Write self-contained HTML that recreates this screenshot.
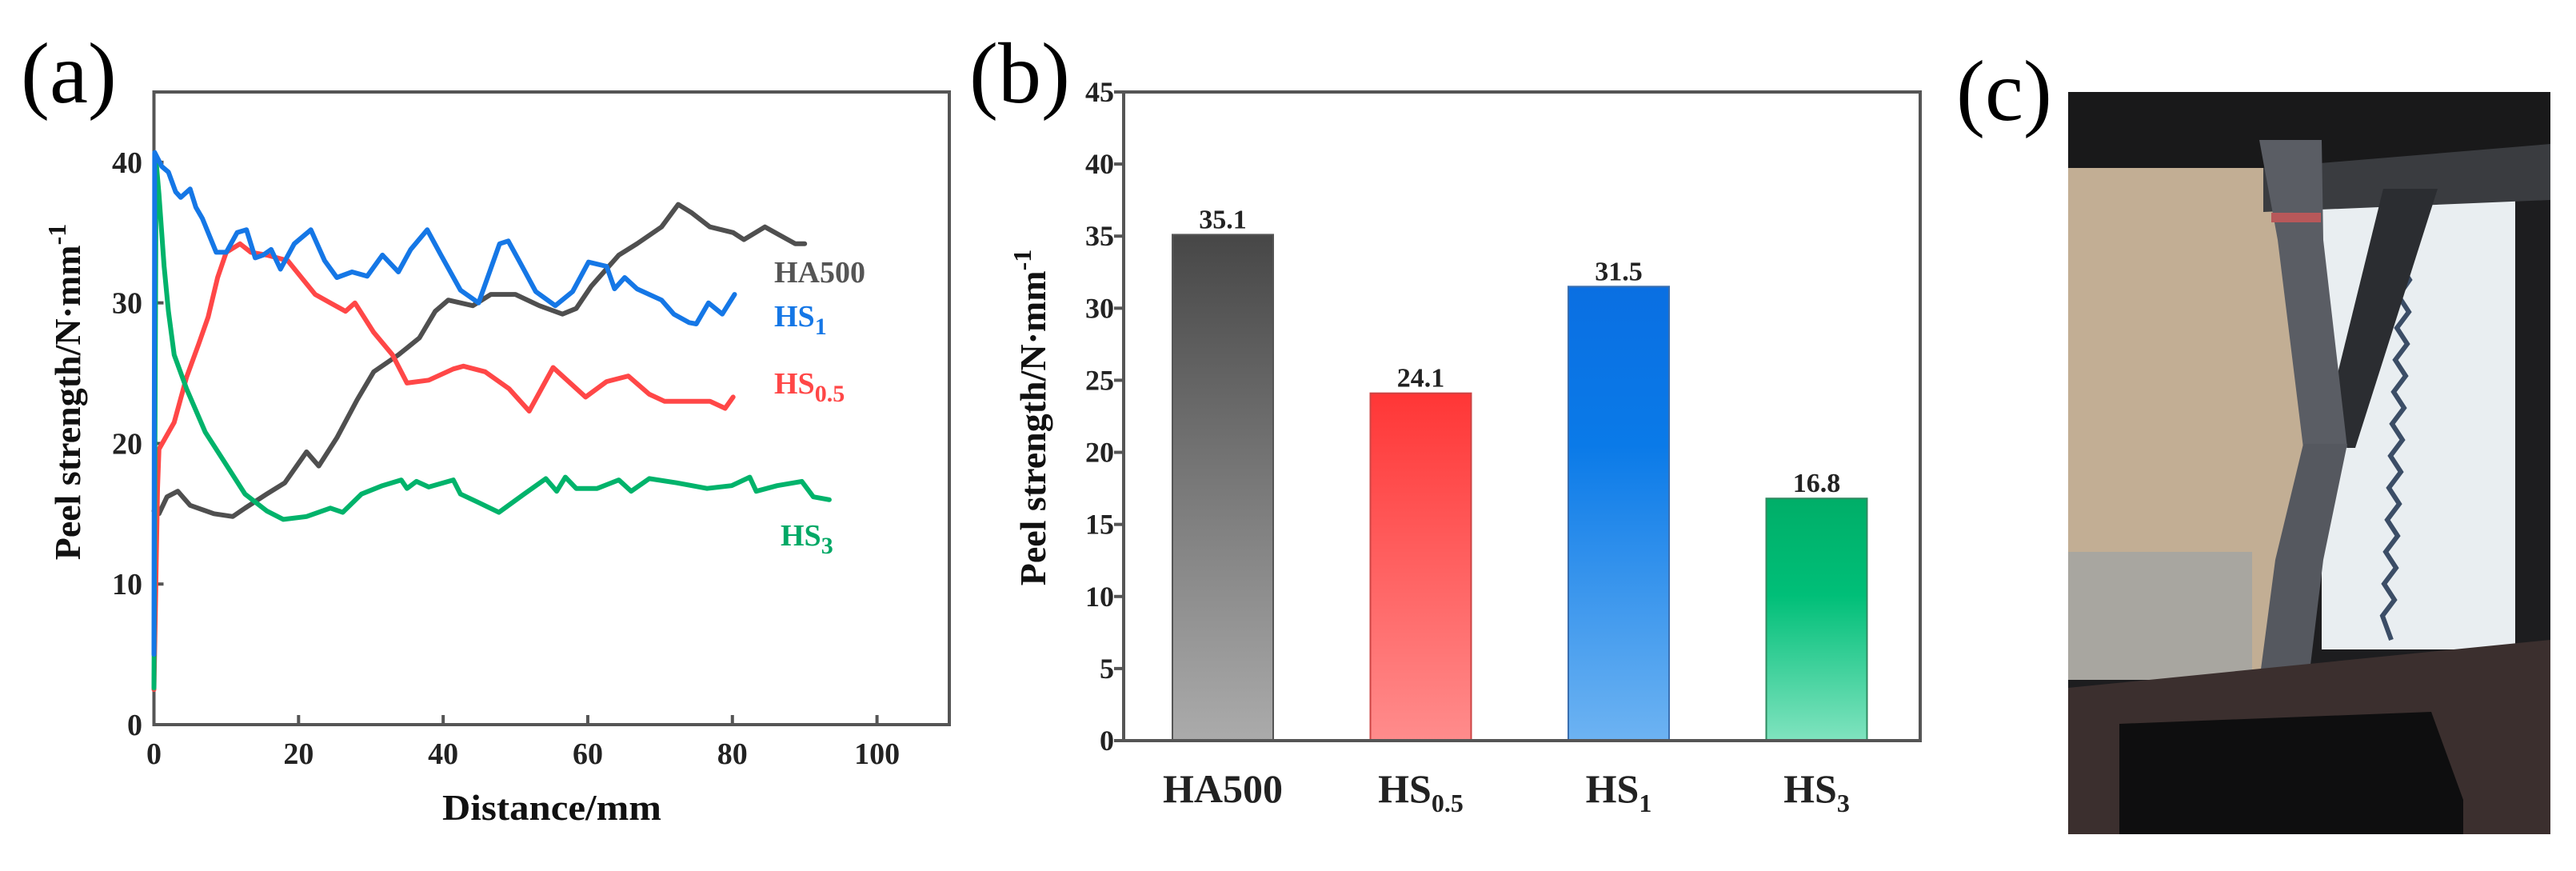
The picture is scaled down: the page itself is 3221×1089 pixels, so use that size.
<!DOCTYPE html>
<html><head><meta charset="utf-8">
<style>
html,body{margin:0;padding:0;background:#fff;}
svg{display:block;}
text{font-family:"Liberation Serif",serif;font-weight:bold;}
</style></head>
<body>
<svg id="fig" width="3221" height="1089" viewBox="0 0 3221 1089" xmlns="http://www.w3.org/2000/svg">
<defs>
<linearGradient id="gGray" x1="0" y1="0" x2="0" y2="1"><stop offset="0" stop-color="#474747"/><stop offset="1" stop-color="#ababab"/></linearGradient>
<linearGradient id="gRed" x1="0" y1="0" x2="0" y2="1"><stop offset="0" stop-color="#ff3636"/><stop offset="1" stop-color="#ff8c8c"/></linearGradient>
<linearGradient id="gBlue" x1="0" y1="0" x2="0" y2="1"><stop offset="0" stop-color="#0a6fe2"/><stop offset="0.35" stop-color="#0a7ae8"/><stop offset="1" stop-color="#6db3f2"/></linearGradient>
<linearGradient id="gGreen" x1="0" y1="0" x2="0" y2="1"><stop offset="0" stop-color="#00ae68"/><stop offset="0.4" stop-color="#00bf78"/><stop offset="1" stop-color="#80e3bf"/></linearGradient>
</defs>
<g id="panelA"></g>
<g id="panelB"></g>
<g id="panelC">
  <rect x="2586" y="115" width="603" height="928" fill="#1d1d1f"/>
  <rect x="2586" y="205" width="300" height="640" fill="#c2ae94"/>
  <rect x="2586" y="690" width="230" height="160" fill="#a8a6a0"/>
  <rect x="2903" y="236" width="242" height="576" fill="#e9eef1"/>
  <rect x="2586" y="115" width="603" height="95" fill="#19191a"/>
  <polygon points="2830,210 3189,180 3189,250 2830,265" fill="#3a3c40"/>
  <polyline fill="none" stroke="#3b4d66" stroke-width="6" points="3012,270 3000,290 3014,310 3000,330 3013,350 2999,370 3012,390 2997,410 3010,430 2995,450 3008,470 2993,490 3006,510 2991,530 3004,550 2989,570 3002,590 2987,610 3000,630 2985,650 2998,670 2983,690 2996,710 2981,730 2994,750 2979,770 2990,800"/>
  <polygon points="2980,236 3048,236 2945,560 2900,560" fill="#2b2d31"/>
  <polygon points="2825,175 2903,175 2905,300 2935,560 2880,560 2848,300" fill="#5a5d64"/>
  <rect x="2840" y="266" width="62" height="12" fill="#b8585a"/>
  <polygon points="2880,555 2935,555 2905,700 2880,905 2818,905 2845,700" fill="#55585f"/>
  <polygon points="2586,860 3189,800 3189,1043 2586,1043" fill="#3b2f2e"/>
  <polygon points="2650,905 3040,890 3080,1000 3080,1043 2650,1043" fill="#0e0e0f"/>
</g>
<g id="labels">
  <text x="26" y="128" font-size="108" style="font-weight:normal">(a)</text>
  <text x="1212" y="128" font-size="108" style="font-weight:normal">(b)</text>
  <text x="2446" y="150" font-size="108" style="font-weight:normal">(c)</text>
</g>
</svg>
<script>
const NS='http://www.w3.org/2000/svg';
// ---------- Panel (a) data ----------
const aXTicks=[0,20,40,60,80,100];
const aYTicks=[0,10,20,30,40];
const seriesNames=['HA500','HS1','HS0.5','HS3'];
const ha500X=[0,0.7,1.8,3.3,5,8.3,10.9,12.6,15.6,18.1,21.1,22.8,25.3,28.1,30.4,33.8,36.7,38.9,40.7,44.1,46.6,50,53.3,56.5,58.4,60.5,64.3,66.8,70.2,72.5,74.4,76.9,80.1,81.6,84.5,86.6,88.7,90];
const ha500Y=[15.2,15,16.2,16.6,15.6,15,14.8,15.4,16.4,17.2,19.4,18.4,20.4,23.1,25.1,26.3,27.5,29.4,30.2,29.8,30.6,30.6,29.8,29.2,29.6,31.2,33.4,34.2,35.4,37,36.4,35.4,35,34.5,35.4,34.8,34.2,34.2];
const hs1X=[0,0.1,1.1,2,3,3.7,5,5.8,6.7,8.6,10,11.5,12.8,14,15.1,16.2,17.5,19.4,21.7,23.6,25.3,27.4,29.5,31.6,33.8,35.5,37.8,39.7,42.4,44.9,47.8,49,50.7,52.8,55.5,57.9,60.1,62.6,63.7,65.1,66.8,70.2,71.9,74,75,76.7,78.6,80.3];
const hs1Y=[5,40.7,39.7,39.3,37.9,37.5,38.1,36.8,36,33.6,33.6,35,35.2,33.2,33.4,33.8,32.4,34.2,35.2,33,31.8,32.2,31.9,33.4,32.2,33.8,35.2,33.4,30.9,30,34.2,34.4,32.8,30.8,29.8,30.8,32.9,32.6,31,31.8,31,30.2,29.2,28.6,28.5,30,29.2,30.6];
const hs05X=[0,0.5,0.7,2.8,4.5,6.2,7.5,8.8,10,11.9,13.4,15.6,18.5,22.3,24.4,26.5,27.8,30.4,33,35,38,41.4,42.8,45.8,49.1,51.9,55.2,59.7,62.6,65.6,68.5,70.6,74.4,76.9,79,80.1];
const hs05Y=[2.5,16.8,19.6,21.5,24.7,27.1,29,31.8,33.6,34.2,33.6,33.4,33,30.6,30,29.4,30,27.9,26.3,24.3,24.5,25.3,25.5,25.1,23.9,22.3,25.4,23.3,24.4,24.8,23.5,23,23,23,22.5,23.3];
const hs3X=[0,0.3,0.7,1.4,2,2.8,4.5,7.1,9.6,12.6,15.6,17.9,21.1,24.4,26.1,28.7,31.6,34.2,35,36.3,38,41.4,42.4,44.9,47.7,51.2,54.2,55.7,56.9,58.4,61.3,64.3,66,68.5,72.3,76.5,79.9,82.4,83.3,86.2,89.6,91.2,93.4];
const hs3Y=[2.6,40.1,37.7,32.6,29.4,26.3,23.9,20.8,18.8,16.4,15.2,14.6,14.8,15.4,15.1,16.4,17,17.4,16.8,17.3,16.9,17.4,16.4,15.8,15.1,16.4,17.5,16.6,17.6,16.8,16.8,17.4,16.6,17.5,17.2,16.8,17,17.6,16.6,17,17.3,16.2,16];
// ---------- Panel (b) data ----------
const bCategories=['HA500','HS0.5','HS1','HS3'];
const bValues=[35.1,24.1,31.5,16.8];
const bLabels=['35.1','24.1','31.5','16.8'];
const bYTicks=[0,5,10,15,20,25,30,35,40,45];

function el(tag,attrs,parent,txt){const e=document.createElementNS(NS,tag);for(const k in attrs)e.setAttribute(k,attrs[k]);if(txt!==undefined)e.textContent=txt;parent.appendChild(e);return e;}

// Panel A axes
const A={l:192.5,r:1187,t:115,b:906,xmax:110,ymax:45};
const ax=v=>A.l+(v/A.xmax)*(A.r-A.l);
const ay=v=>A.b-(v/A.ymax)*(A.b-A.t);
const gA=document.getElementById('panelA');
const frameA=el('rect',{x:A.l,y:A.t,width:A.r-A.l,height:A.b-A.t,fill:'none',stroke:'#555','stroke-width':4},gA);


aXTicks.forEach(v=>{
  const t=el('line',{x1:ax(v),x2:ax(v),y1:A.b,y2:A.b-12,stroke:'#555','stroke-width':4},gA);
  
  
  const l=el('text',{x:ax(v),y:955,'font-size':38,'text-anchor':'middle',fill:'#222'},gA,String(v));
  
  
});
aYTicks.forEach(v=>{
  const t=el('line',{x1:A.l,x2:A.l+12,y1:ay(v),y2:ay(v),stroke:'#555','stroke-width':4},gA);
  
  
  const l=el('text',{x:178,y:ay(v)+13,'font-size':38,'text-anchor':'end',fill:'#222'},gA,String(v));
  
  
});
const xtA=el('text',{x:690,y:1025,'font-size':46,'text-anchor':'middle',fill:'#111',textLength:274,lengthAdjust:'spacingAndGlyphs'},gA,'Distance/mm');


const ytA=el('text',{x:0,y:0,'font-size':46,'text-anchor':'middle',fill:'#111',transform:'translate(100,490) rotate(-90)'},gA);


ytA.innerHTML='Peel strength/N·mm<tspan dy="-18" font-size="32">-1</tspan>';

function drawLine(xs,ys,color,name){
  const pts=xs.map((x,i)=>ax(x).toFixed(1)+','+ay(ys[i]).toFixed(1)).join(' ');
  const p=el('polyline',{points:pts,fill:'none',stroke:color,'stroke-width':6,'stroke-linejoin':'round','stroke-linecap':'round'},gA);
  
  
}
drawLine(ha500X,ha500Y,'#4f4f4f','line-ha500');
drawLine(hs05X,hs05Y,'#ff4747','line-hs05');
drawLine(hs3X,hs3Y,'#00b36b','line-hs3');
drawLine(hs1X,hs1Y,'#1577e6','line-hs1');

function legendText(x,y,color,main,sub,name){
  const t=el('text',{x:x,y:y,'font-size':38,fill:color},gA);
  
  
  t.innerHTML=main+(sub?'<tspan dy="10" font-size="30">'+sub+'</tspan>':'');
}
legendText(968,353,'#555','HA500','', 'legend-ha500');
legendText(968,408,'#1577e6','HS','1','legend-hs1');
legendText(968,492,'#ff4747','HS','0.5','legend-hs05');
legendText(976,682,'#00a865','HS','3','legend-hs3');

// Panel B
const B={l:1405,r:2401,t:115,b:926,ymax:45};
const by=v=>B.b-(v/B.ymax)*(B.b-B.t);
const bStep=247.5, bFirst=1529, bW=126;
const bx=i=>bFirst+i*bStep;
const gB=document.getElementById('panelB');
const fills=['url(#gGray)','url(#gRed)','url(#gBlue)','url(#gGreen)'];
const strokes=['#555','#cc4444','#3a6fb0','#2f8a60'];
bValues.forEach((v,i)=>{
  const r=el('rect',{x:bx(i)-bW/2,y:by(v),width:bW,height:B.b-by(v),fill:fills[i],stroke:strokes[i],'stroke-width':2},gB);
  
  
  const vl=el('text',{x:bx(i),y:by(v)-8,'font-size':34,'text-anchor':'middle',fill:'#222'},gB,bLabels[i]);
  
  
  const c=bCategories[i];
  const cl=el('text',{x:bx(i),y:1003,'font-size':50,'text-anchor':'middle',fill:'#222'},gB);
  
  
  if(c.startsWith('HS')) cl.innerHTML='HS<tspan dy="12" font-size="32">'+c.slice(2)+'</tspan>'; else cl.textContent=c;
});
const frameB=el('rect',{x:B.l,y:B.t,width:B.r-B.l,height:B.b-B.t,fill:'none',stroke:'#555','stroke-width':4},gB);


bYTicks.forEach(v=>{
  const t=el('line',{x1:B.l-12,x2:B.l,y1:by(v),y2:by(v),stroke:'#555','stroke-width':4},gB);
  
  
  const l=el('text',{x:1393,y:by(v)+12,'font-size':36,'text-anchor':'end',fill:'#222'},gB,String(v));
  
  
});
const ytB=el('text',{x:0,y:0,'font-size':46,'text-anchor':'middle',fill:'#111',transform:'translate(1307,522) rotate(-90)'},gB);


ytB.innerHTML='Peel strength/N·mm<tspan dy="-18" font-size="32">-1</tspan>';
</script>
</body></html>
